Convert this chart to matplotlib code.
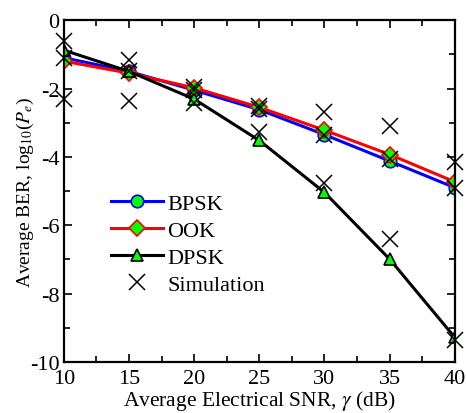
import numpy as np
import matplotlib.pyplot as plt
from matplotlib.ticker import MultipleLocator

plt.rcParams['font.family'] = 'Liberation Serif'
plt.rcParams['mathtext.fontset'] = 'stix'
plt.rcParams['axes.unicode_minus'] = False

# SNR points (dB) and log10 of the average BER
snr = [10, 15, 20, 25, 30, 35, 40]
ber_bpsk = [-1.1, -1.5, -2.05, -2.62, -3.35, -4.12, -4.9]
ber_ook = [-1.2, -1.55, -1.98, -2.55, -3.22, -3.93, -4.73]
ber_dpsk = [-0.88, -1.5, -2.31, -3.52, -5.04, -6.99, -9.28]

# Monte Carlo results
sim_upper = [-0.62, -1.18, -1.96, -2.5, -2.68, -3.1, -4.15]
sim_mid = [-1.1, -1.5, -2.05, -2.6, -3.35, -4.05, -4.9]
sim_lower = [-2.3, -2.37, -2.42, -3.27, -4.75, -6.4, -9.35]

fig = plt.figure(figsize=(4.66, 4.14), dpi=100)
ax = fig.add_axes([0.137, 0.123, 0.839, 0.826])

ax.plot(snr, ber_bpsk, '-o', color='blue', lw=2.2, ms=9, mfc='#00ff00', mec='blue', mew=1.2, label='BPSK')
ax.plot(snr, ber_ook, '-D', color='red', lw=2.2, ms=8, mfc='#00ff00', mec='red', mew=1.2, label='OOK')
ax.plot(snr, ber_dpsk, '-^', color='black', lw=2.2, ms=9, mfc='#00ff00', mec='black', mew=1.2, label='DPSK')

sim_kw = dict(ls='none', marker='x', color='black', ms=11, mew=1.1, zorder=5, clip_on=False)
ax.plot(snr, sim_upper, label='Simulation', **sim_kw)
ax.plot(snr, sim_mid, **sim_kw)
ax.plot(snr, sim_lower, **sim_kw)

ax.set_xlim(10, 40)
ax.set_ylim(-10, 0)
ax.xaxis.set_major_locator(MultipleLocator(5))
ax.xaxis.set_minor_locator(MultipleLocator(2.5))
ax.yaxis.set_major_locator(MultipleLocator(2))
ax.yaxis.set_minor_locator(MultipleLocator(1))
ax.tick_params(which='both', direction='in', top=True, right=True, labelsize=16, width=1.2)
ax.tick_params(which='major', length=6, pad=3)
ax.tick_params(which='minor', length=4)
ax.tick_params(axis='x', which='major', pad=5)
for s in ax.spines.values():
    s.set_linewidth(1.6)

ax.set_xlabel(r'Average Electrical SNR, $\gamma$ (dB)', fontsize=15.5, labelpad=0)
ax.set_ylabel(r'Average BER, log$_{10}$($P_e$)', fontsize=14, labelpad=-4)

ax.legend(loc='center left', bbox_to_anchor=(0.12, 0.345), frameon=False, fontsize=16,
          borderpad=0, borderaxespad=0, labelspacing=0.28, handlelength=2.35, handletextpad=0.2)

fig.savefig('out.png', dpi=100)
